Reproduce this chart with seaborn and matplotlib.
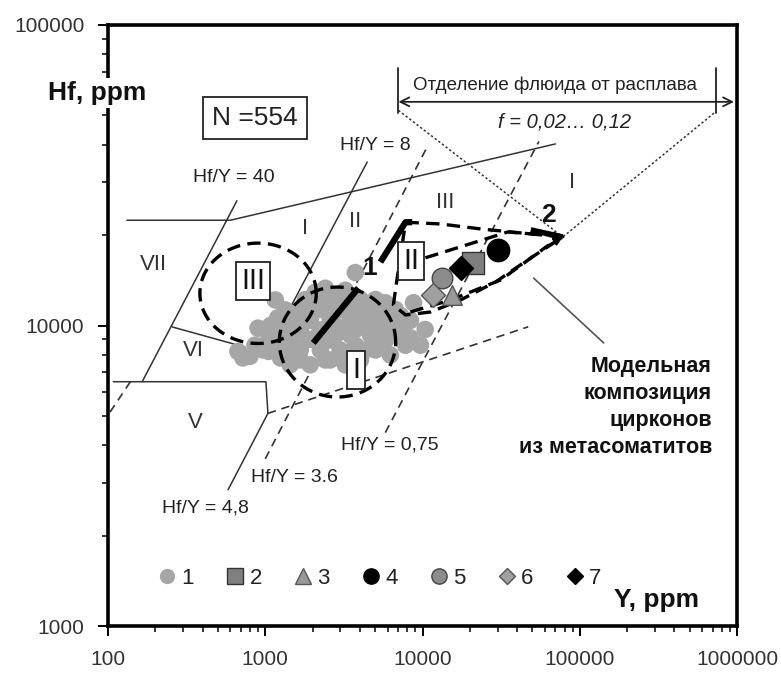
import numpy as np
import matplotlib
matplotlib.use("Agg")
import matplotlib.pyplot as plt
import seaborn as sns
import pandas as pd
from matplotlib.lines import Line2D

# ---------------- data (Y ppm, Hf ppm) ----------------
series1 = [(670, 8200), (800, 7900), (960, 8300), (1160, 8600), (1250, 7800), (1050, 8950),
           (1440, 9670), (1550, 8600), (1670, 7680), (1440, 10800), (1800, 12200), (2080, 12900),
           (2410, 13300), (2790, 12600), (3230, 13100), (3740, 15000), (4030, 12200), (1930, 10400),
           (2240, 11300), (2590, 10400), (3000, 11300), (3480, 10400), (4030, 10800), (4660, 11300),
           (5400, 10600), (6250, 10300), (7240, 9670), (8380, 9100), (9700, 8600), (7800, 8600),
           (8770, 11900), (6730, 11300), (5810, 8950), (4660, 9300), (3740, 8600), (3000, 8290),
           (2410, 7680), (1930, 7400), (1440, 7400), (2080, 8950), (2590, 8950), (3230, 9670),
           (1670, 9670), (1250, 9670), (1250, 8600), (2240, 12200), (2790, 11700), (3480, 12200),
           (4340, 10000), (5020, 8290), (6250, 7980), (4030, 7680), (3230, 7400), (860, 8600),
           (720, 7800), (5020, 12200), (1670, 11300), (8380, 10400), (10400, 9700), (5810, 11900),
           (900, 9800), (1080, 10000), (2240, 9670), (2790, 9290), (1670, 10430), (1340, 9290),
           (3480, 11270), (4340, 11270), (5400, 9670), (6730, 9290), (1670, 8290), (2240, 8290),
           (2590, 7680), (3480, 9290), (1160, 12160), (1340, 11270), (1930, 11800), (2590, 12000),
           (1930, 9000), (2790, 10000), (3740, 9700), (4660, 10300), (6000, 9800), (7240, 10800),
           (1440, 8300), (1050, 8200), (3000, 7900), (4340, 8300), (5400, 8600), (1200, 10600)]
s2_Y, s2_Hf = [21100], [16100]
s3_Y, s3_Hf = [15500], [12600]
s4_Y, s4_Hf = [30000], [17900]
s5_Y, s5_Hf = [13400], [14400]
s6_Y, s6_Hf = [11600], [12600]
s7_Y, s7_Hf = [17450], [15500]
legend_labels = ["1", "2", "3", "4", "5", "6", "7"]

# field boundaries (solid)
top_Y = [132, 600, 70000]; top_Hf = [22400, 22400, 40200]
r40_Y = [165, 660]; r40_Hf = [6500, 26000]
r8_Y = [1130, 4450]; r8_Hf = [9000, 35000]
r48_Y = [580, 1040]; r48_Hf = [2840, 5100]
bot_Y = [108, 1010, 1040]; bot_Hf = [6500, 6500, 5100]
vi_Y = [256, 746]; vi_Hf = [9890, 8470]
# dashed boundaries
r36_Y = [1000, 10900]; r36_Hf = [3600, 40000]
r075_Y = [5800, 55000]; r075_Hf = [4400, 41000]
low_Y = [1040, 47000]; low_Hf = [5100, 9900]
left_Y = [103, 144]; left_Hf = [5150, 6690]
# ellipses: centre Y, centre Hf, half-axes in decades
ell_III = (900, 12800, 0.37, 0.167)
ell_I = (2880, 8810, 0.37, 0.183)
# field II outline
fII_Y = [7800, 13030, 23400, 42100, 78000, 46700, 29200, 17450, 11240, 7800, 6530, 6730]
fII_Hf = [22070, 21770, 20960, 20330, 19700, 16530, 13970, 12160, 11090, 10840, 11700, 13130]
inII_up_Y = [10440, 34800, 60700]; inII_up_Hf = [16800, 20470, 20000]
inII_lo_Y = [8380, 15070, 31380, 63500]; inII_lo_Hf = [11090, 12160, 14170, 18530]
tip_Y, tip_Hf = 78000, 19700
# trends
t1a_Y = [2020, 3910]; t1a_Hf = [8750, 13330]
t1b_Y = [5400, 7800, 8600]; t1b_Hf = [16260, 22070, 22070]
t2_Y = [48800, 78000]; t2_Hf = [20800, 19700]
# fluid separation construction
dot1_Y = [7030, 78000]; dot1_Hf = [52000, 19700]
dot2_Y = [714000, 78000]; dot2_Hf = [50900, 19700]
brk_Y = [7030, 957000]; brk_Hf = 55500
brkL_Y = [7030, 7030]; brkR_Y = [735000, 735000]; brk_v_Hf = [71900, 50900]
lead_Y = [50900, 142000]; lead_Hf = [14380, 8750]

# ---------------- style ----------------
sns.set_style("ticks")
plt.rcParams['font.family'] = ['Liberation Sans', 'DejaVu Sans']
W, H = 781, 673
fig = plt.figure(figsize=(W / 100, H / 100), dpi=100)
ax = fig.add_axes([108 / W, (H - 626) / H, 629 / W, 601 / H])
ax.set_xscale('log'); ax.set_yscale('log')
ax.set_xlim(100, 1e6); ax.set_ylim(1000, 1e5)

thin = dict(color='#333333', lw=1.1)
tdash = dict(color='#333333', lw=1.2, ls=(0, (5, 3.5)))
kdash = dict(color='black', lw=2.4, ls=(0, (4, 2.2)))

ax.plot(top_Y, top_Hf, **thin)
ax.plot(r40_Y, r40_Hf, **thin)
ax.plot(r8_Y, r8_Hf, **thin)
ax.plot(r48_Y, r48_Hf, **thin)
ax.plot(bot_Y, bot_Hf, **thin)
ax.plot(vi_Y, vi_Hf, **thin)
ax.plot(r36_Y, r36_Hf, **tdash)
ax.plot(r075_Y, r075_Hf, **tdash)
ax.plot(low_Y, low_Hf, **tdash)
ax.plot(left_Y, left_Hf, **tdash)

# scatter series
df1 = pd.DataFrame(series1, columns=['Y', 'Hf'])
sns.scatterplot(data=df1, x='Y', y='Hf', ax=ax, color='#a6a6a6', s=160, edgecolor='none', zorder=3, legend=False)

def ellipse(p, n=200):
    t = np.linspace(0, 2 * np.pi, n)
    return 10 ** (np.log10(p[0]) + p[2] * np.cos(t)), 10 ** (np.log10(p[1]) + p[3] * np.sin(t))

for p in (ell_III, ell_I):
    ex, ey = ellipse(p)
    ax.plot(ex, ey, zorder=4, **kdash)
ax.plot(fII_Y + fII_Y[:1], fII_Hf + fII_Hf[:1], zorder=4, **kdash)
ax.plot(inII_up_Y, inII_up_Hf, zorder=4, **kdash)
ax.plot(inII_lo_Y, inII_lo_Hf, zorder=4, **kdash)
for xs, ys in ((inII_up_Y, inII_up_Hf), (inII_lo_Y, inII_lo_Hf)):
    ax.annotate('', xy=(tip_Y, tip_Hf), xytext=(xs[-1], ys[-1]), zorder=5,
                arrowprops=dict(arrowstyle='-|>', color='black', lw=1.6, shrinkA=0, shrinkB=0,
                                mutation_scale=12))

ax.plot(t1a_Y, t1a_Hf, color='black', lw=4.5, solid_capstyle='butt', zorder=5)
ax.plot(t1b_Y, t1b_Hf, color='black', lw=4.5, solid_capstyle='butt', zorder=5)
ax.plot(t2_Y, t2_Hf, color='black', lw=4, solid_capstyle='butt', zorder=5)

sty = [
    (s2_Y, s2_Hf, 's', '#7f7f7f', '#333333', 230),
    (s3_Y, s3_Hf, '^', '#999999', '#555555', 200),
    (s4_Y, s4_Hf, 'o', 'black', 'black', 260),
    (s5_Y, s5_Hf, 'o', '#8c8c8c', '#444444', 220),
    (s6_Y, s6_Hf, 'D', '#a0a0a0', '#555555', 150),
    (s7_Y, s7_Hf, 'D', 'black', 'black', 150),
]
for xs, ys, m, fc, ec, s in sty:
    sns.scatterplot(x=xs, y=ys, ax=ax, marker=m, color=fc, edgecolor=ec, linewidth=1, s=s, zorder=6, legend=False)

ax.plot(dot1_Y, dot1_Hf, color='#333333', lw=1.1, ls=(0, (1.5, 1.5)))
ax.plot(dot2_Y, dot2_Hf, color='#333333', lw=1.1, ls=(0, (1.5, 1.5)))
ax.annotate('', xy=(brk_Y[1], brk_Hf), xytext=(brk_Y[0], brk_Hf),
            arrowprops=dict(arrowstyle='<->', color='#222222', lw=1.3, shrinkA=0, shrinkB=0,
                            mutation_scale=16))
ax.plot(brkL_Y, brk_v_Hf, color='#222222', lw=1.3)
ax.plot(brkR_Y, brk_v_Hf, color='#222222', lw=1.3)
ax.plot(lead_Y, lead_Hf, color='#555555', lw=1.2)

# axes styling
for sp in ax.spines.values():
    sp.set_linewidth(2.6); sp.set_color('black')
ax.tick_params(which='major', direction='out', length=7, width=1.4, pad=10, labelsize=15,
               labelcolor='#333333', color='black')
ax.tick_params(which='minor', direction='out', length=4, width=1.1, color='black')
ax.xaxis.set_major_formatter(matplotlib.ticker.FuncFormatter(lambda v, p: f"{int(round(v))}"))
ax.yaxis.set_major_formatter(matplotlib.ticker.FuncFormatter(lambda v, p: f"{int(round(v))}"))
ax.set_xlabel(''); ax.set_ylabel('')

def F(px, py):
    return px / W, 1 - py / H

def ftext(px, py, s, **kw):
    kw.setdefault('ha', 'center'); kw.setdefault('va', 'center')
    kw.setdefault('color', '#222222')
    fig.text(*F(px, py), s, **kw)

ftext(48, 100, 'Hf, ppm', fontsize=19, fontweight='bold', ha='left', va='baseline', color='#111111',
      zorder=10, bbox=dict(boxstyle='square,pad=0.12', fc='white', ec='none'))
ftext(699, 607, 'Y, ppm', fontsize=19, fontweight='bold', ha='right', va='baseline', color='#111111')
ftext(255, 118, 'N =554', fontsize=19,
      bbox=dict(boxstyle='square,pad=0.35', fc='white', ec='#222222', lw=1.3))
ftext(234, 178, 'Hf/Y = 40', fontsize=14)
ftext(375, 145, 'Hf/Y = 8', fontsize=14)
ftext(294, 477, 'Hf/Y = 3.6', fontsize=14)
ftext(205, 508, 'Hf/Y = 4,8', fontsize=14)
ftext(390, 445, 'Hf/Y = 0,75', fontsize=14)
for px, py, s in [(153, 265, 'VII'), (193, 350, 'VI'), (195, 423, 'V'), (305, 228, 'I'),
                  (355, 222, 'II'), (445, 203, 'III'), (572, 183, 'I')]:
    ftext(px, py, s, fontsize=16, color='#333333')
for px, py, s in [(253, 281, 'III'), (356, 370, 'I'), (411, 261, 'II')]:
    ftext(px, py, s, fontsize=21, color='#111111', zorder=7,
          bbox=dict(boxstyle='square,pad=0.18', fc='white', ec='#222222', lw=1.3))
ftext(370, 268, '1', fontsize=19, fontweight='bold', color='#111111')
ftext(548, 215, '2', fontsize=19, fontweight='bold', color='#111111')
ftext(555, 85, 'Отделение флюида от расплава', fontsize=13.5)
ftext(565, 122, 'f = 0,02… 0,12', fontsize=14.5, style='italic')
for py, s in [(372, 'Модельная'), (399, 'композиция'), (426, 'цирконов'), (453, 'из метасоматитов')]:
    ftext(712, py, s, fontsize=15.5, fontweight='bold', ha='right', va='baseline', color='#111111')

handles = [
    Line2D([], [], ls='', marker='o', ms=11, mfc='#a6a6a6', mec='none'),
    Line2D([], [], ls='', marker='s', ms=11, mfc='#7f7f7f', mec='#333333'),
    Line2D([], [], ls='', marker='^', ms=11, mfc='#999999', mec='#555555'),
    Line2D([], [], ls='', marker='o', ms=11, mfc='black', mec='black'),
    Line2D([], [], ls='', marker='o', ms=11, mfc='#8c8c8c', mec='#444444'),
    Line2D([], [], ls='', marker='D', ms=8.5, mfc='#a0a0a0', mec='#555555'),
    Line2D([], [], ls='', marker='D', ms=8.5, mfc='black', mec='black'),
]
leg = fig.legend(handles, legend_labels, loc='center left', bbox_to_anchor=F(158, 578), ncol=7,
                 frameon=False, fontsize=16, handlelength=0.8, handletextpad=0.25, columnspacing=1.45,
                 borderaxespad=0, borderpad=0)
for t in leg.get_texts():
    t.set_color('#222222')

fig.savefig('out.png', dpi=100)
